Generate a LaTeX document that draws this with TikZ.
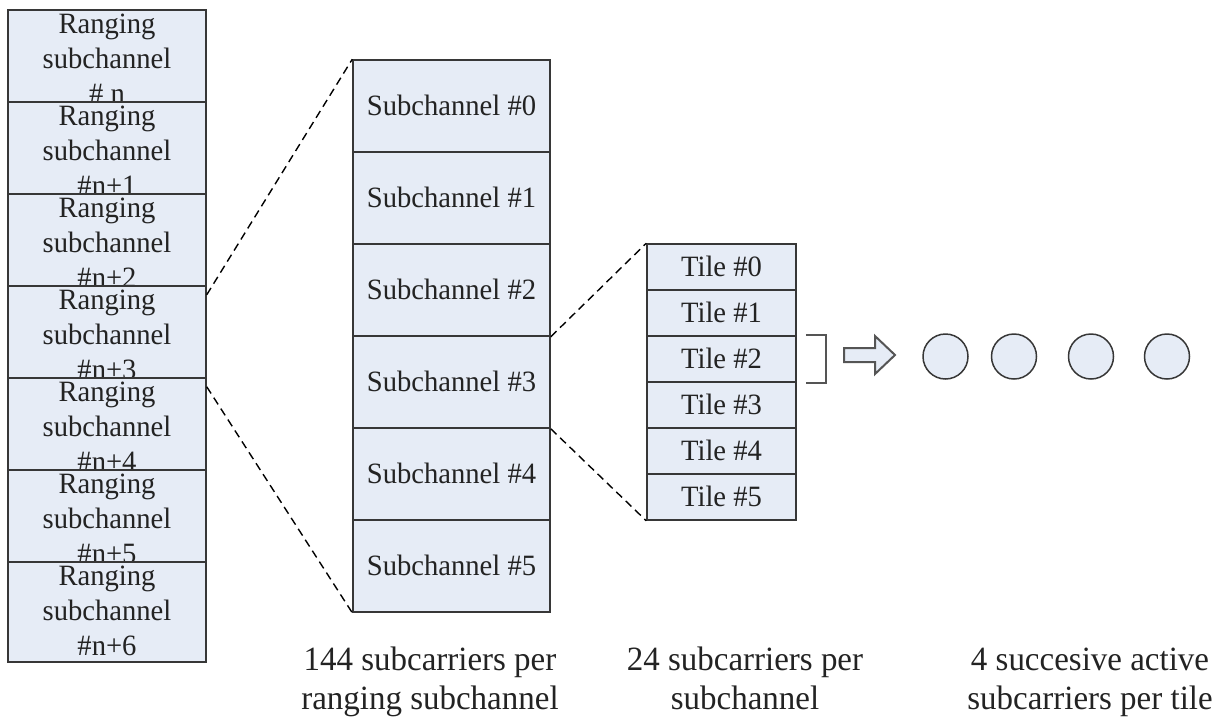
\documentclass[tikz,border=0pt]{standalone}
\usepackage{fontspec}
\setmainfont{Liberation Serif}[FakeStretch=0.97]
\definecolor{cellfill}{RGB}{230,236,246}
\definecolor{edge}{RGB}{55,55,55}
\definecolor{ink}{RGB}{35,35,35}
\definecolor{brk}{RGB}{85,85,85}
\begin{document}
\begin{tikzpicture}[x=1pt,y=-1pt,
  cell/.style={draw=edge,line width=1.5pt,fill=cellfill,rectangle,inner sep=0pt,
    text=ink,align=center,font=\fontsize{29.5}{35}\selectfont,text height=25pt,text depth=7pt},
  rcell/.style={cell,minimum width=198pt,minimum height=92pt,text height=93pt,text depth=7pt},
  scell/.style={cell,minimum width=197pt,minimum height=92pt},
  tcell/.style={cell,minimum width=149pt,minimum height=46pt},
  zoomline/.style={draw=black,line width=1.4pt,dash pattern=on 8pt off 5pt},
  dot/.style={draw=edge,line width=1.5pt,fill=cellfill,circle,minimum size=45pt,inner sep=0pt},
  caption/.style={text=ink,align=center,font=\fontsize{34}{39}\selectfont,text height=68pt,text depth=9pt,inner sep=0pt}]
\useasboundingbox (0,0) rectangle (1228,718);
% left column
\node[rcell] (r0) at (107,60)  {Ranging\\subchannel\\\# n};
\node[rcell] (r1) at (107,152) {Ranging\\subchannel\\\#n+1};
\node[rcell] (r2) at (107,244) {Ranging\\subchannel\\\#n+2};
\node[rcell] (r3) at (107,336) {Ranging\\subchannel\\\#n+3};
\node[rcell] (r4) at (107,428) {Ranging\\subchannel\\\#n+4};
\node[rcell] (r5) at (107,520) {Ranging\\subchannel\\\#n+5};
\node[rcell] (r6) at (107,612) {Ranging\\subchannel\\\#n+6};
% middle column
\node[scell] (s0) at (451.5,106) {Subchannel \#0};
\node[scell] (s1) at (451.5,198) {Subchannel \#1};
\node[scell] (s2) at (451.5,290) {Subchannel \#2};
\node[scell] (s3) at (451.5,382) {Subchannel \#3};
\node[scell] (s4) at (451.5,474) {Subchannel \#4};
\node[scell] (s5) at (451.5,566) {Subchannel \#5};
% tiles
\node[tcell] (t0) at (721.5,267) {Tile \#0};
\node[tcell] (t1) at (721.5,313) {Tile \#1};
\node[tcell] (t2) at (721.5,359) {Tile \#2};
\node[tcell] (t3) at (721.5,405) {Tile \#3};
\node[tcell] (t4) at (721.5,451) {Tile \#4};
\node[tcell] (t5) at (721.5,497) {Tile \#5};
% zoom lines
\draw[zoomline] (r2.south east) -- (s0.north west);
\draw[zoomline] (r3.south east) -- (s5.south west);
\draw[zoomline] (s2.south east) -- (t0.north west);
\draw[zoomline] (s3.south east) -- (t5.south west);
% bracket
\draw[brk,line width=2pt] ([xshift=9pt]t2.north east) -| ([xshift=29pt]t2.south east) -- ([xshift=9pt]t2.south east);
% block arrow
\draw[brk,line width=2pt,fill=cellfill,line join=miter]
  (844,348) -- (875,348) -- (875,336) -- (895,355) -- (875,374) -- (875,362) -- (844,362) -- cycle;
% subcarriers
\node[dot] (c1) at (945.5,356.5) {};
\node[dot] (c2) at (1014,356.5) {};
\node[dot] (c3) at (1091,356.5) {};
\node[dot] (c4) at (1167,356.5) {};
% captions
\node[caption] (l1) at (430,679.5) {144 subcarriers per\\ranging subchannel};
\node[caption] (l2) at (745,679.5) {24 subcarriers per\\subchannel};
\node[caption] (l3) at (1090,679.5) {4 succesive active\\subcarriers per tile};
\end{tikzpicture}
\end{document}
